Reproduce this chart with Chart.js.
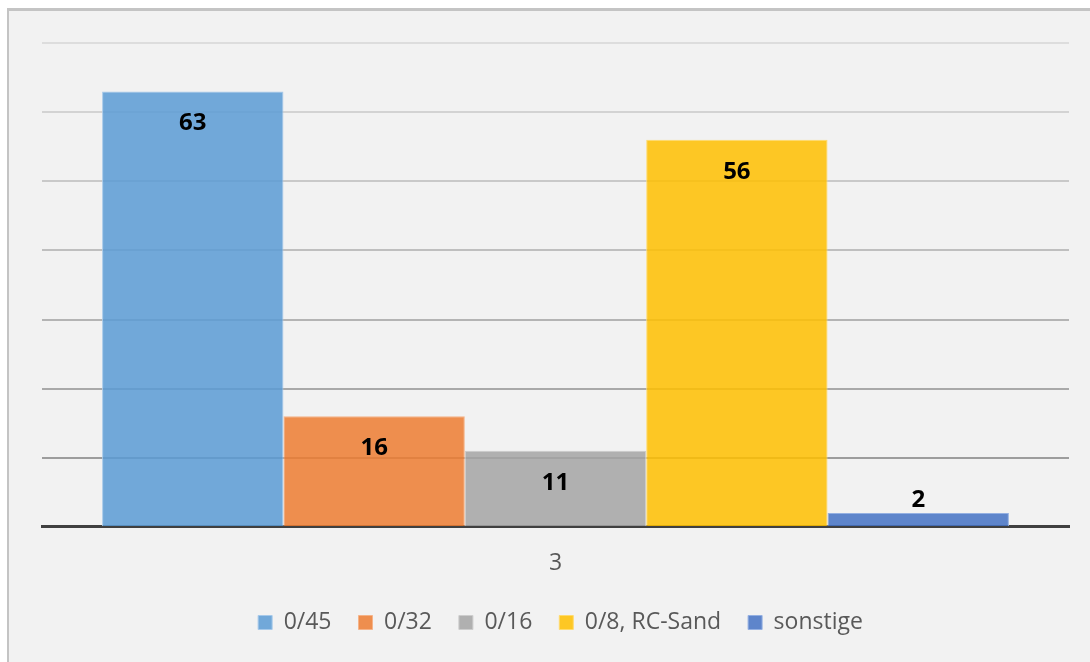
<!DOCTYPE html>
<html>
<head>
<meta charset="utf-8">
<script src="https://cdn.jsdelivr.net/npm/chart.js@4/dist/chart.umd.min.js"></script>
<style>
  html, body { margin: 0; padding: 0; background: #ffffff; }
  #wrap { position: relative; width: 1090px; height: 662px; overflow: hidden; }
  #frame { position: absolute; left: 7px; top: 8px; right: 0; bottom: 0;
           border-left: 2px solid #C4C4C4; border-top: 3px solid #C4C4C4; background: #F2F2F2; }
  #c { position: absolute; left: 0; top: 0; }
</style>
</head>
<body>
<div id="wrap">
  <div id="frame"></div>
  <canvas id="c" width="1090" height="662"></canvas>
</div>
<script>
const categories = ['3'];
const seriesNames = ['0/45', '0/32', '0/16', '0/8, RC-Sand', 'sonstige'];
const seriesValues = [63, 16, 11, 56, 2];
const yTicks = [0, 10, 20, 30, 40, 50, 60, 70];

const fillColors = ['rgba(91,155,213,0.85)', 'rgba(237,125,49,0.85)', 'rgba(165,165,165,0.85)', 'rgba(255,192,0,0.85)', 'rgba(68,114,196,0.85)'];
const edgeColors = ['#A6C9EA', '#F5B388', '#CDCDCD', '#FFDB6E', '#94B0E2'];
const gridShades = {0: 'rgba(0,0,0,0)', 10: '#9D9D9D', 20: '#A9A9A9', 30: '#B4B4B4', 40: '#BFBFBF', 50: '#C9C9C9', 60: '#D3D3D3', 70: '#DDDDDD'};

Chart.defaults.font.family = "'Open Sans', sans-serif";

const datasets = seriesNames.map((name, i) => ({
  label: name,
  data: [seriesValues[i]],
  backgroundColor: fillColors[i],
  borderColor: edgeColors[i],
  borderWidth: 1,
  categoryPercentage: 0.883,
  barPercentage: 1.0
}));

const valueLabels = {
  id: 'valueLabels',
  afterDatasetsDraw(chart) {
    const ctx = chart.ctx;
    ctx.save();
    ctx.font = "bold 24px 'Open Sans', sans-serif";
    ctx.fillStyle = '#000000';
    ctx.textAlign = 'center';
    ctx.textBaseline = 'middle';
    chart.data.datasets.forEach((ds, i) => {
      const meta = chart.getDatasetMeta(i);
      meta.data.forEach((bar, j) => {
        const h = bar.base - bar.y;
        const txt = String(ds.data[j]);
        const y = h > 40 ? bar.y + 32 : bar.y - 13;
        ctx.fillText(txt, bar.x, y);
      });
    });
    ctx.restore();
  }
};

const legendNudge = {
  id: 'legendNudge',
  afterLayout(chart) {
    if (chart.legend) { chart.legend.left += 5; chart.legend.right += 5; }
  }
};

new Chart(document.getElementById('c'), {
  type: 'bar',
  data: { labels: categories, datasets: datasets },
  options: {
    responsive: false,
    devicePixelRatio: 1,
    animation: false,
    layout: { padding: { left: 42, right: 21, top: 43, bottom: 18 } },
    plugins: {
      legend: {
        position: 'bottom',
        labels: { boxWidth: 14, boxHeight: 14, padding: 27, color: '#595959', font: { size: 23 } }
      },
      tooltip: { enabled: false }
    },
    scales: {
      x: {
        z: 1,
        grid: { display: false },
        border: { display: true, color: '#404040', width: 3 },
        ticks: { color: '#595959', font: { size: 23 }, padding: 14.5 },
        afterFit(scale) { scale.height = scale.height - 7.5; }
      },
      y: {
        min: 0, max: 70,
        afterBuildTicks(scale) { scale.ticks = yTicks.map(v => ({ value: v })); },
        ticks: { display: false },
        border: { display: false },
        grid: {
          drawTicks: false,
          lineWidth: 2,
          color: (ctx) => gridShades[ctx.tick ? ctx.tick.value : 0] || '#CCCCCC'
        }
      }
    }
  },
  plugins: [valueLabels, legendNudge]
});
</script>
</body>
</html>
